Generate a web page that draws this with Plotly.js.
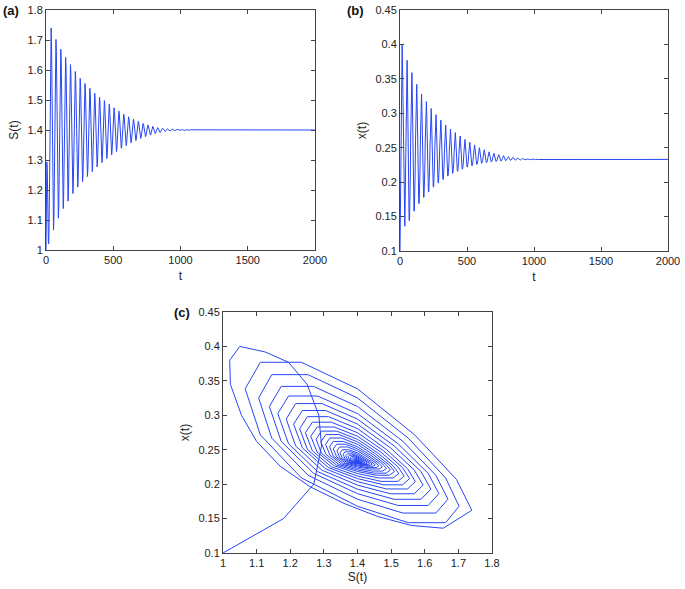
<!DOCTYPE html>
<html>
<head>
<meta charset="utf-8">
<script src="https://cdn.plot.ly/plotly-3.0.1.min.js"></script>
<style>
html,body{margin:0;padding:0;background:#fff;}
#chart{width:685px;height:589px;}
</style>
</head>
<body>
<div id="chart"></div>
<script>
// Start-up transient (t, S, x)
const tTransient = [0,2,4,6,8,10,12,14,16,18,20,22,24,26,28,30,32,34,36];
const sTransient = [1.000,1.180,1.270,1.293,1.285,1.250,1.195,1.125,1.050,1.020,1.022,1.055,1.100,1.170,1.260,1.360,1.460,1.560,1.655];
const xTransient = [0.100,0.150,0.200,0.255,0.300,0.345,0.377,0.392,0.400,0.380,0.345,0.300,0.262,0.226,0.196,0.172,0.153,0.140,0.136];

// Oscillation cycles (one row per cycle, samples evenly spaced in the cycle)
const cycleStart = 38;
const cyclePeriod = 36;
const sCycles = [
[1.740,1.694,1.570,1.4,1.233,1.111,1.066,1.111,1.233,1.4,1.551,1.662],
[1.702,1.662,1.551,1.4,1.253,1.145,1.106,1.145,1.253,1.4,1.535,1.633],
[1.669,1.633,1.535,1.4,1.269,1.173,1.138,1.173,1.269,1.4,1.521,1.610],
[1.642,1.610,1.521,1.4,1.281,1.195,1.163,1.195,1.281,1.4,1.509,1.589],
[1.618,1.589,1.509,1.4,1.294,1.216,1.188,1.216,1.294,1.4,1.498,1.569],
[1.595,1.569,1.498,1.4,1.305,1.236,1.210,1.236,1.305,1.4,1.486,1.549],
[1.572,1.549,1.486,1.4,1.314,1.251,1.228,1.251,1.314,1.4,1.478,1.534],
[1.555,1.534,1.478,1.4,1.322,1.266,1.245,1.266,1.322,1.4,1.470,1.520],
[1.539,1.520,1.470,1.4,1.331,1.280,1.261,1.280,1.331,1.4,1.462,1.506],
[1.523,1.506,1.462,1.4,1.338,1.293,1.277,1.293,1.338,1.4,1.455,1.495],
[1.510,1.495,1.455,1.4,1.345,1.306,1.291,1.306,1.345,1.4,1.449,1.485],
[1.498,1.485,1.449,1.4,1.352,1.318,1.305,1.318,1.352,1.4,1.443,1.475],
[1.486,1.475,1.443,1.4,1.358,1.328,1.317,1.328,1.358,1.4,1.437,1.464],
[1.474,1.464,1.437,1.4,1.364,1.338,1.328,1.338,1.364,1.4,1.432,1.455],
[1.463,1.455,1.432,1.4,1.370,1.347,1.339,1.347,1.370,1.4,1.426,1.446],
[1.453,1.446,1.426,1.4,1.374,1.355,1.348,1.355,1.374,1.4,1.422,1.438],
[1.444,1.438,1.422,1.4,1.379,1.363,1.357,1.363,1.379,1.4,1.418,1.431],
[1.436,1.431,1.418,1.4,1.383,1.370,1.365,1.370,1.383,1.4,1.415,1.425],
[1.429,1.425,1.415,1.4,1.386,1.376,1.372,1.376,1.386,1.4,1.411,1.419],
[1.422,1.4191,1.411,1.4,1.389,1.3809,1.378,1.3809,1.389,1.4,1.4085,1.4147],
[1.417,1.4147,1.4085,1.4,1.3915,1.3853,1.383,1.3853,1.3915,1.4,1.406,1.4104],
[1.412,1.4104,1.406,1.4,1.394,1.3896,1.388,1.3896,1.394,1.4,1.404,1.4069],
[1.408,1.4069,1.404,1.4,1.3955,1.3922,1.391,1.3922,1.3955,1.4,1.403,1.4052],
[1.406,1.4052,1.403,1.4,1.397,1.3948,1.394,1.3948,1.397,1.4,1.402,1.4035],
[1.404,1.4035,1.402,1.4,1.398,1.3965,1.396,1.3965,1.398,1.4,1.4015,1.4026],
[1.403,1.4026,1.4015,1.4,1.3985,1.3974,1.397,1.3974,1.3985,1.4,1.401,1.4017],
[1.402,1.4017,1.401,1.4,1.399,1.3983,1.398,1.3983,1.399,1.4,1.4008,1.4013],
[1.4015,1.4013,1.4008,1.4,1.3993,1.3987,1.3985,1.3987,1.3993,1.4,1.4005,1.4009],
[1.401,1.4009,1.4005,1.4,1.3995,1.3991,1.399,1.3991,1.3995,1.4,1.4004,1.4006]
];
const xCycles = [
[0.1620,0.2070,0.2716,0.3384,0.377,0.377,0.3384,0.2716,0.2091,0.1679,0.144,0.144],
[0.1679,0.2091,0.2668,0.3252,0.359,0.359,0.3252,0.2668,0.2129,0.1781,0.158,0.158],
[0.1781,0.2129,0.2622,0.3128,0.342,0.342,0.3128,0.2622,0.2158,0.1862,0.169,0.169],
[0.1862,0.2158,0.2585,0.3025,0.328,0.328,0.3025,0.2585,0.2183,0.1927,0.178,0.178],
[0.1927,0.2183,0.2555,0.2945,0.317,0.317,0.2945,0.2555,0.2204,0.1986,0.186,0.186],
[0.1986,0.2204,0.2528,0.2872,0.307,0.307,0.2872,0.2528,0.2223,0.2037,0.193,0.193],
[0.2037,0.2223,0.2504,0.2806,0.298,0.298,0.2806,0.2504,0.2239,0.2081,0.199,0.199],
[0.2081,0.2239,0.2483,0.2747,0.290,0.290,0.2747,0.2483,0.2252,0.2118,0.204,0.204],
[0.2118,0.2252,0.2464,0.2696,0.283,0.283,0.2696,0.2464,0.2266,0.2154,0.209,0.209],
[0.2154,0.2266,0.2448,0.2652,0.277,0.277,0.2652,0.2448,0.2276,0.2184,0.213,0.213],
[0.2184,0.2276,0.2435,0.2615,0.272,0.272,0.2615,0.2435,0.2284,0.2206,0.216,0.216],
[0.2206,0.2284,0.2421,0.2579,0.267,0.267,0.2579,0.2421,0.2292,0.2228,0.219,0.219],
[0.2228,0.2292,0.2408,0.2542,0.262,0.262,0.2542,0.2408,0.2301,0.2249,0.222,0.222],
[0.2249,0.2301,0.2397,0.2513,0.258,0.258,0.2513,0.2397,0.2306,0.2264,0.224,0.224],
[0.2264,0.2306,0.2386,0.2484,0.254,0.254,0.2484,0.2386,0.2311,0.2279,0.226,0.226],
[0.2279,0.2311,0.2376,0.2454,0.250,0.250,0.2454,0.2376,0.2315,0.2290,0.2275,0.2275],
[0.2290,0.2315,0.2368,0.2432,0.247,0.247,0.2432,0.2368,0.2318,0.2297,0.2285,0.2285],
[0.2297,0.2318,0.2359,0.2411,0.244,0.244,0.2411,0.2359,0.2321,0.2304,0.2295,0.2295],
[0.2304,0.2321,0.2354,0.2396,0.242,0.242,0.2396,0.2354,0.2322,0.2310,0.2302,0.2302],
[0.2310,0.2322,0.2349,0.2381,0.240,0.240,0.2381,0.2349,0.2324,0.2314,0.2308,0.2308],
[0.2314,0.2324,0.2345,0.2370,0.2385,0.2385,0.2370,0.2345,0.2325,0.2318,0.2313,0.2313],
[0.2318,0.2325,0.2341,0.2359,0.237,0.237,0.2359,0.2341,0.2327,0.2320,0.2317,0.2317],
[0.2320,0.2327,0.2338,0.2352,0.236,0.236,0.2352,0.2338,0.2327,0.2323,0.2320,0.2320],
[0.2323,0.2327,0.2335,0.2345,0.235,0.235,0.2345,0.2335,0.2328,0.2324,0.2322,0.2322],
[0.2324,0.2328,0.2334,0.2341,0.2345,0.2345,0.2341,0.2334,0.2328,0.2326,0.2324,0.2324],
[0.2326,0.2328,0.2333,0.2337,0.234,0.234,0.2337,0.2333,0.2329,0.2327,0.2326,0.2326],
[0.2327,0.2329,0.2332,0.2336,0.2338,0.2338,0.2336,0.2332,0.2329,0.2328,0.2327,0.2327],
[0.2328,0.2329,0.2331,0.2334,0.2335,0.2335,0.2334,0.2331,0.2329,0.2329,0.2328,0.2328],
[0.2329,0.2329,0.2331,0.2332,0.2333,0.2333,0.2332,0.2331,0.2330,0.2329,0.2329,0.2329]
];
// Steady state up to the end of the run
const tEnd = 2000;
const sEnd = 1.4;
const xEnd = 0.233;

// Assemble the series
const T = tTransient.slice();
const S = sTransient.slice();
const X = xTransient.slice();
sCycles.forEach(function(row, k){
  row.forEach(function(v, j){
    T.push(cycleStart + k*cyclePeriod + j*cyclePeriod/row.length);
    S.push(v);
    X.push(xCycles[k][j]);
  });
});
T.push(tEnd); S.push(sEnd); X.push(xEnd);

const lineColor = 'rgb(40,70,245)';
const W = 685, H = 589;
function dom(a, b, total){ return [a/total, b/total]; }
function ydom(top, bottom){ return [1-bottom/H, 1-top/H]; }

const tickFont = {family:'"Liberation Sans", Arial, sans-serif', size:11, color:'#222'};
const titleFont = {family:'"Liberation Sans", Arial, sans-serif', size:12, color:'#222'};
function ax(extra){
  return Object.assign({
    showline:true, linecolor:'#444', linewidth:1, mirror:'ticks',
    ticks:'inside', ticklen:4, tickcolor:'#444', tickwidth:1,
    showgrid:false, zeroline:false, tickfont:tickFont, automargin:false
  }, extra);
}

const data = [
  {x:T, y:S, xaxis:'x', yaxis:'y', mode:'lines', line:{color:lineColor, width:1}, hoverinfo:'skip'},
  {x:T, y:X, xaxis:'x2', yaxis:'y2', mode:'lines', line:{color:lineColor, width:1}, hoverinfo:'skip'},
  {x:S, y:X, xaxis:'x3', yaxis:'y3', mode:'lines', line:{color:lineColor, width:1}, hoverinfo:'skip'}
];

const layout = {
  width:W, height:H, margin:{l:0,r:0,t:0,b:0},
  paper_bgcolor:'#fff', plot_bgcolor:'#fff', showlegend:false,
  xaxis: ax({domain:dom(46,315,W), range:[0,2000], tickvals:[0,500,1000,1500,2000], anchor:'y',
    title:{text:'t', font:titleFont, standoff:6}}),
  yaxis: ax({domain:ydom(10,250), range:[1,1.8], dtick:0.1, tick0:1, anchor:'x',
    title:{text:'S(t)', font:titleFont, standoff:6}}),
  xaxis2: ax({domain:dom(400,668,W), range:[0,2000], tickvals:[0,500,1000,1500,2000], anchor:'y2',
    title:{text:'t', font:titleFont, standoff:6}}),
  yaxis2: ax({domain:ydom(10,251), range:[0.1,0.45], dtick:0.05, tick0:0.1, anchor:'x2',
    title:{text:'x(t)', font:titleFont, standoff:6}}),
  xaxis3: ax({domain:dom(223,492,W), range:[1,1.8], dtick:0.1, tick0:1, anchor:'y3',
    title:{text:'S(t)', font:titleFont, standoff:4}}),
  yaxis3: ax({domain:ydom(312,553), range:[0.1,0.45], dtick:0.05, tick0:0.1, anchor:'x3',
    title:{text:'x(t)', font:titleFont, standoff:6}}),
  annotations:[
    {text:'<b>(a)</b>', xref:'paper', yref:'paper', x:1/W, y:1-10/H, xanchor:'left', yanchor:'middle', showarrow:false, font:{family:'"Liberation Sans", Arial, sans-serif', size:13, color:'#111'}},
    {text:'<b>(b)</b>', xref:'paper', yref:'paper', x:345/W, y:1-10/H, xanchor:'left', yanchor:'middle', showarrow:false, font:{family:'"Liberation Sans", Arial, sans-serif', size:13, color:'#111'}},
    {text:'<b>(c)</b>', xref:'paper', yref:'paper', x:172/W, y:1-312/H, xanchor:'left', yanchor:'middle', showarrow:false, font:{family:'"Liberation Sans", Arial, sans-serif', size:13, color:'#111'}}
  ]
};

Plotly.newPlot('chart', data, layout, {staticPlot:true, displayModeBar:false});
</script>
</body>
</html>
